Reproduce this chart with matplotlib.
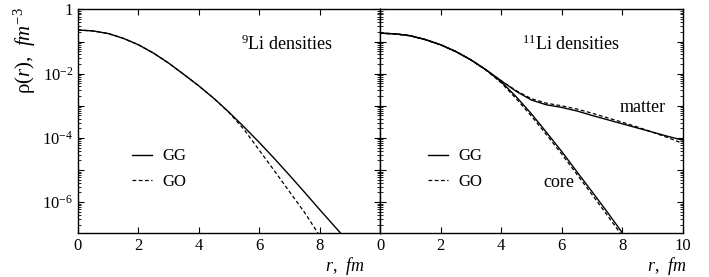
import numpy as np
import matplotlib
matplotlib.use('Agg')
from matplotlib import pyplot as plt
from matplotlib.ticker import LogLocator, FuncFormatter, NullFormatter, MultipleLocator

plt.rcParams['font.family'] = 'Liberation Serif'
plt.rcParams['mathtext.fontset'] = 'custom'
plt.rcParams['mathtext.rm'] = 'Liberation Serif'
plt.rcParams['mathtext.it'] = 'Liberation Serif:italic'
plt.rcParams['font.size'] = 11

# 9Li densities (log10 of rho, fm^-3)
r_li9 = [0, 0.5, 1, 1.5, 2, 2.5, 3, 3.5, 4, 4.5, 5, 5.5, 6, 6.5, 7, 7.5, 8, 8.7]
li9_gg = [-0.64, -0.67, -0.75, -0.9, -1.1, -1.36, -1.67, -2.02, -2.38, -2.77,
          -3.2, -3.66, -4.14, -4.64, -5.16, -5.69, -6.23, -6.97]
r_li9_go = [0, 0.5, 1, 1.5, 2, 2.5, 3, 3.5, 4, 4.5, 5, 5.5, 6, 6.5, 7, 7.5, 7.95]
li9_go = [-0.64, -0.67, -0.75, -0.9, -1.1, -1.36, -1.67, -2.02, -2.38, -2.77,
          -3.21, -3.74, -4.38, -5.02, -5.67, -6.32, -6.97]

# 11Li densities
r_li11 = [0, 0.5, 1, 1.5, 2, 2.5, 3, 3.5, 4, 4.5, 5, 5.5, 6, 6.5, 7, 7.5,
          8, 8.5, 9, 9.5, 10]
matter_gg = [-0.74, -0.76, -0.82, -0.94, -1.1, -1.31, -1.57, -1.88, -2.22,
             -2.55, -2.82, -2.97, -3.05, -3.16, -3.3, -3.43, -3.56, -3.69,
             -3.82, -3.95, -4.07]
matter_go = [-0.74, -0.76, -0.82, -0.94, -1.1, -1.31, -1.57, -1.88, -2.22,
             -2.53, -2.78, -2.92, -3.0, -3.1, -3.23, -3.37, -3.51, -3.66,
             -3.82, -3.99, -4.17]
r_core = [0, 0.5, 1, 1.5, 2, 2.5, 3, 3.5, 4, 4.5, 5, 5.5, 6, 6.5, 7, 7.5, 8.0]
core_gg = [-0.74, -0.76, -0.82, -0.94, -1.1, -1.31, -1.57, -1.88, -2.25,
           -2.72, -3.25, -3.83, -4.42, -5.05, -5.67, -6.3, -6.95]
core_go = [-0.74, -0.76, -0.82, -0.94, -1.1, -1.31, -1.57, -1.89, -2.28,
           -2.78, -3.32, -3.9, -4.5, -5.13, -5.76, -6.4, -7.05]

ymin, ymax = 1.1e-7, 1.0


def log_fmt(v, pos):
    e = int(round(np.log10(v)))
    if e == 0:
        return '1'
    if e % 2 != 0:
        return ''
    return r'$10^{%d}$' % e


fig = plt.figure(figsize=(7.09, 2.77), dpi=100)
ax1 = fig.add_axes([0.110, 0.159, 0.426, 0.807])
ax2 = fig.add_axes([0.536, 0.159, 0.427, 0.807])

for ax in (ax1, ax2):
    ax.set_yscale('log')
    ax.set_ylim(ymin, ymax)
    ax.set_xlim(0, 10)
    ax.xaxis.set_major_locator(MultipleLocator(2))
    ax.yaxis.set_major_locator(LogLocator(base=10, numticks=20))
    ax.yaxis.set_minor_locator(LogLocator(base=10, subs=np.arange(2, 10), numticks=20))
    ax.yaxis.set_minor_formatter(NullFormatter())
    ax.tick_params(which='both', direction='in', top=True, right=True, labelsize=12)
    ax.tick_params(which='major', length=4, width=0.8)
    ax.tick_params(which='minor', length=2, width=0.6)
    for s in ax.spines.values():
        s.set_linewidth(1.0)

ax1.yaxis.set_major_formatter(FuncFormatter(log_fmt))
ax2.yaxis.set_major_formatter(NullFormatter())
ax1.set_xticks([0, 2, 4, 6, 8, 10])
ax1.set_xticklabels(['0', '2', '4', '6', '8', ''])

# left panel
ax1.plot(r_li9, 10 ** np.array(li9_gg), 'k-', lw=1.0, label='GG')
ax1.plot(r_li9_go, 10 ** np.array(li9_go), 'k--', lw=0.9, dashes=(3, 2), label='GO')
ax1.text(5.4, 0.08, r'$^{9}$Li densities', fontsize=13, ha='left', va='center')
ax1.legend(loc='upper left', bbox_to_anchor=(0.13, 0.445), frameon=False,
           handlelength=1.2, handletextpad=0.6, labelspacing=0.55, fontsize=12)

# right panel
ax2.plot(r_li11, 10 ** np.array(matter_gg), 'k-', lw=1.0, label='GG')
ax2.plot(r_li11, 10 ** np.array(matter_go), 'k--', lw=0.9, dashes=(3, 2), label='GO')
ax2.plot(r_core, 10 ** np.array(core_gg), 'k-', lw=1.0)
ax2.plot(r_core, 10 ** np.array(core_go), 'k--', lw=0.9, dashes=(3, 2))
ax2.text(4.7, 0.08, r'$^{11}$Li densities', fontsize=13, ha='left', va='center')
ax2.text(7.9, 10 ** -3.05, 'matter', fontsize=13, ha='left', va='center')
ax2.text(5.4, 10 ** -5.4, 'core', fontsize=13, ha='left', va='center')
ax2.legend(loc='upper left', bbox_to_anchor=(0.11, 0.445), frameon=False,
           handlelength=1.2, handletextpad=0.6, labelspacing=0.55, fontsize=12)

# axis labels
fig.text(0.487, 0.02, r'$r$,  $fm$', fontsize=13, ha='center')
fig.text(0.94, 0.02, r'$r$,  $fm$', fontsize=13, ha='center')
fig.text(0.035, 0.975, r'$\mathrm{\rho}(r)$,  $fm^{-3}$', fontsize=15,
         rotation=90, ha='center', va='top')

plt.savefig('out.png', dpi=100)
